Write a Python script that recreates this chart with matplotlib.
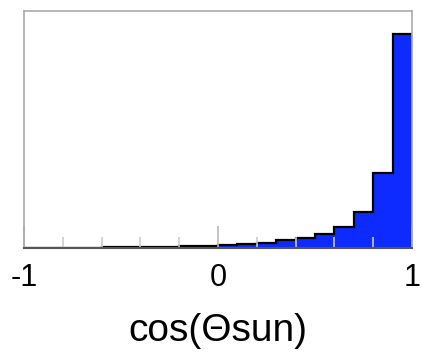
import matplotlib
matplotlib.use("Agg")
import matplotlib.pyplot as plt
import numpy as np
from matplotlib.ticker import MultipleLocator

# histogram of cos(theta_sun), 20 bins between -1 and 1
BIN_EDGES = [-1.0, -0.9, -0.8, -0.7, -0.6, -0.5, -0.4, -0.3, -0.2, -0.1, 0.0,
             0.1, 0.2, 0.3, 0.4, 0.5, 0.6, 0.7, 0.8, 0.9, 1.0]
COUNTS = [0.5, 0.7, 0.9, 1.2, 1.6, 2.2, 3, 4, 5, 6,
          8, 12, 16, 23, 30, 43, 63, 109, 225, 640]
TICK_VALUES = [-1, 0, 1]
TICK_LABELS = ["-1", "0", "1"]
X_LABEL = "cos(\u0398sun)"

FILL_COLOR = "#0d2bff"

plt.rcParams["font.family"] = ["Liberation Sans", "DejaVu Sans"]

fig = plt.figure(figsize=(4.23, 3.52), dpi=100)
ax = fig.add_axes([24 / 423, 1 - 248 / 352, 388 / 423, 237 / 352])

ax.stairs(COUNTS, BIN_EDGES, fill=True, color=FILL_COLOR, linewidth=0)
ax.stairs(COUNTS, BIN_EDGES, fill=False, color="black", linewidth=1.6, baseline=None)

ax.set_xlim(-1, 1)
ax.set_ylim(0, 710)
ax.set_yticks([])

ax.set_xticks(TICK_VALUES)
ax.set_xticklabels(TICK_LABELS, fontsize=22)
ax.xaxis.set_minor_locator(MultipleLocator(0.2))
ax.tick_params(axis="x", which="major", direction="in", length=16, width=1.2,
               color="#bbbbbb", pad=10.5)
ax.tick_params(axis="x", which="minor", direction="in", length=8, width=1.2,
               color="#cccccc")

for side in ["left", "top", "right"]:
    ax.spines[side].set_color("#aaaaaa")
    ax.spines[side].set_linewidth(1.2)
ax.spines["bottom"].set_color("#555555")
ax.spines["bottom"].set_linewidth(1.5)

ax.set_xlabel(X_LABEL, fontsize=28, labelpad=15)

fig.savefig("out.png", dpi=100)
